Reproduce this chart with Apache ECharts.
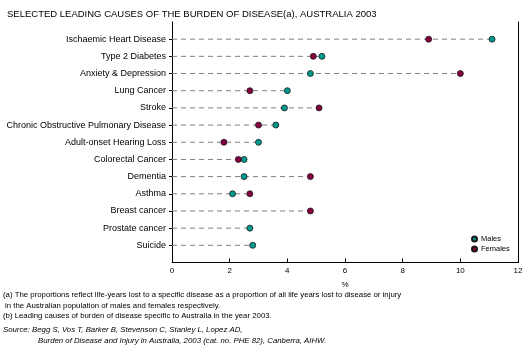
<!DOCTYPE html>
<html><head><meta charset="utf-8">
<script src="https://cdn.jsdelivr.net/npm/echarts@6/dist/echarts.min.js"></script>
<style>html,body{margin:0;padding:0;background:#fff}#c{width:529px;height:363px}</style>
</head><body><div id="c"></div>
<script>
var categories = ['Ischaemic Heart Disease','Type 2 Diabetes','Anxiety & Depression','Lung Cancer','Stroke','Chronic Obstructive Pulmonary Disease','Adult-onset Hearing Loss','Colorectal Cancer','Dementia','Asthma','Breast cancer','Prostate cancer','Suicide'];
var males   = [11.1, 5.2, 4.8, 4.0, 3.9, 3.6, 3.0, 2.5, 2.5, 2.1, null, 2.7, 2.8];
var females = [8.9, 4.9, 10.0, 2.7, 5.1, 3.0, 1.8, 2.3, 4.8, 2.7, 4.8, null, null];
var xTicks = [0, 2, 4, 6, 8, 10, 12];

var padded = [''].concat(categories).concat(['']);
var FONT = 'Liberation Sans, Arial, sans-serif';
var maxes = categories.map(function (c, i) {
  return [Math.max(males[i] || 0, females[i] || 0), c];
});
var chart = echarts.init(document.getElementById('c'));
chart.setOption({
  animation: false,
  title: {text: 'SELECTED LEADING CAUSES OF THE BURDEN OF DISEASE(a), AUSTRALIA 2003', left: 2, top: 4,
    textStyle: {fontFamily: FONT, fontSize: 9.5, fontWeight: 'normal', color: '#000'}},
  grid: {left: 172, right: 11, top: 22, bottom: 100.5},
  legend: {orient: 'vertical', left: 466, top: 230, itemWidth: 5, itemHeight: 5, itemGap: 2,
    icon: 'circle', textStyle: {fontFamily: FONT, fontSize: 7.5, color: '#000', padding: [0, 0, 0, -1]},
    data: ['Males', 'Females']},
  xAxis: {type: 'value', min: 0, max: 12, interval: 2, name: '%', nameLocation: 'middle', nameGap: 18,
    nameTextStyle: {fontFamily: FONT, fontSize: 8, color: '#000'},
    axisLine: {show: true, lineStyle: {color: '#000', width: 1}},
    axisTick: {show: true, inside: true, length: 4, lineStyle: {color: '#000'}},
    axisLabel: {fontFamily: FONT, fontSize: 8, color: '#000', margin: 4,
      formatter: function (v) { return xTicks.indexOf(v) >= 0 ? String(v) : ''; }},
    splitLine: {show: false}},
  yAxis: [{type: 'category', data: padded, inverse: true, boundaryGap: false,
    axisLine: {show: true, lineStyle: {color: '#000', width: 1}},
    axisTick: {show: true, length: 3, interval: function (i) { return i > 0 && i < padded.length - 1; }, lineStyle: {color: '#000'}},
    axisLabel: {interval: 0, fontFamily: FONT, fontSize: 9, color: '#000', margin: 6},
    splitLine: {show: false}},
    {type: 'value', position: 'right', min: 0, max: 1,
     axisLine: {show: true, lineStyle: {color: '#000', width: 1}},
     axisTick: {show: false}, axisLabel: {show: false}, splitLine: {show: false}}],
  series: [
    {type: 'custom', name: 'guide', z: 1, silent: true,
     data: maxes,
     renderItem: function (params, api) {
       var y = api.value(1);
       var p0 = api.coord([0, y]);
       var p1 = api.coord([api.value(0), y]);
       return {type: 'line', shape: {x1: p0[0], y1: p0[1], x2: p1[0], y2: p1[1]},
         style: {stroke: '#808080', lineWidth: 1, lineDash: [5, 4]}};
     },
     encode: {x: 0, y: 1}},
    {type: 'scatter', name: 'Males', z: 3, symbol: 'circle', symbolSize: 6,
     data: categories.map(function (c, i) { return males[i] == null ? null : [males[i], c]; }).filter(Boolean),
     itemStyle: {color: '#009a8c', borderColor: '#1a1a1a', borderWidth: 0.8, opacity: 1}},
    {type: 'scatter', name: 'Females', z: 3, symbol: 'circle', symbolSize: 6,
     data: categories.map(function (c, i) { return females[i] == null ? null : [females[i], c]; }).filter(Boolean),
     itemStyle: {color: '#85003f', borderColor: '#1a1a1a', borderWidth: 0.8, opacity: 1}}
  ],
  graphic: [
    {type: 'text', left: 3, top: 291, style: {text: '(a) The proportions reflect life-years lost to a specific disease as a proportion of all life years lost to disease or injury', font: '7.8px ' + FONT, fill: '#000'}},
    {type: 'text', left: 5, top: 302, style: {text: 'in the Australian population of males and females respectively.', font: '7.8px ' + FONT, fill: '#000'}},
    {type: 'text', left: 3, top: 312, style: {text: '(b) Leading causes of burden of disease specific to Australia in the year 2003.', font: '7.8px ' + FONT, fill: '#000'}},
    {type: 'text', left: 3, top: 326, style: {text: 'Source: Begg S, Vos T, Barker B, Stevenson C, Stanley L, Lopez AD,', font: 'italic 7.8px ' + FONT, fill: '#000'}},
    {type: 'text', left: 38, top: 337, style: {text: 'Burden of Disease and Injury in Australia, 2003 (cat. no. PHE 82), Canberra, AIHW.', font: 'italic 7.8px ' + FONT, fill: '#000'}}
  ]
});
</script></body></html>
